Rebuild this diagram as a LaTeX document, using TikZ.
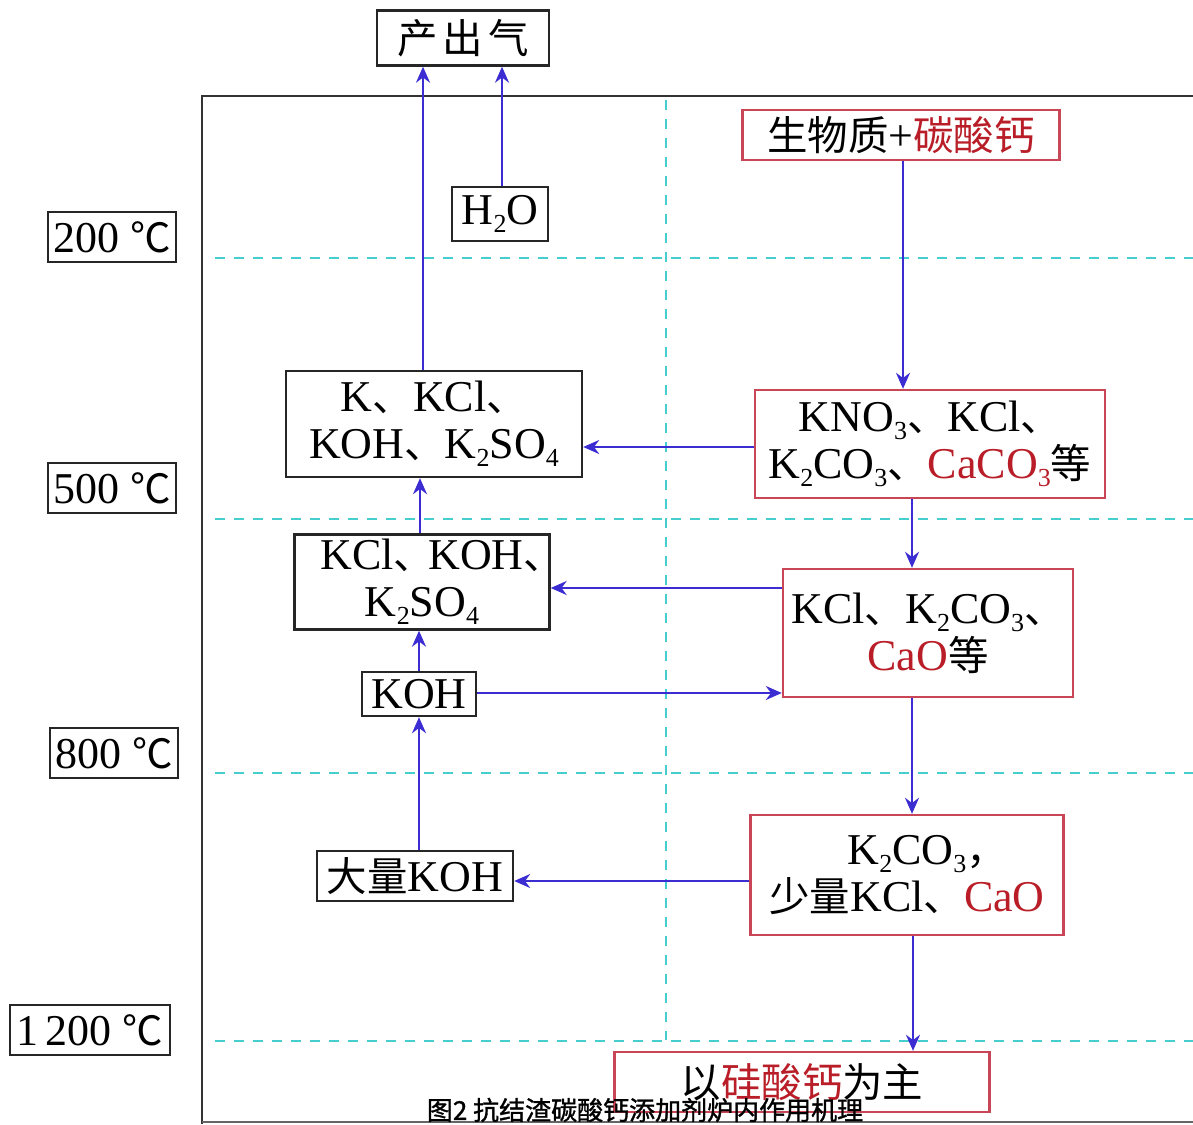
\documentclass[tikz,border=0pt]{standalone}
\usepackage{fontspec}
\usepackage{graphicx}
\setmainfont{Liberation Serif}
\newfontfamily\cjk[Scale=0.92]{Noto Sans CJK SC}
\newfontfamily\capfont[FakeBold=1.2]{Noto Sans CJK SC}
\usetikzlibrary{arrows.meta}
\definecolor{redc}{RGB}{185,30,40}
\definecolor{redb}{RGB}{200,70,85}
\definecolor{bluec}{RGB}{60,45,210}
\definecolor{cyanc}{RGB}{70,205,205}
\newcommand\dun{{\cjk 、}}
\newcommand\sbs[1]{\raisebox{-0.4ex}{\fontsize{26}{26}\selectfont #1}}
\newcommand\rd[1]{\textcolor{redc}{#1}}
\tikzset{
  bx/.style={draw=black!85, line width=2.4pt, inner sep=0pt, align=center,
    font=\fontsize{44}{47}\selectfont},
  rb/.style={bx, draw=redb},
  arr/.style={draw=bluec, line width=2.3pt, -{Stealth[length=16pt,width=14pt]}},
  grid/.style={draw=cyanc, line width=2.4pt, dash pattern=on 10pt off 9pt},
}
\begin{document}
\begin{tikzpicture}[x=1pt,y=-1pt]
\useasboundingbox (0,0) rectangle (1193,1124);
% grid lines
\foreach \yy in {258,519,773,1041} \draw[grid] (215,\yy) -- (1193,\yy);
\draw[grid] (666,100) -- (666,1040);
% frame
\draw[black!80, line width=2.8pt] (202,1124) -- (202,96) -- (1193,96);
\draw[black!60, line width=2pt] (202,1122) -- (1193,1122);
% temperature labels
\node[bx, minimum width=128, minimum height=50] (t200) at (112,237) {200 {\cjk ℃}};
\node[bx, minimum width=128, minimum height=50] (t500) at (112,488) {500 {\cjk ℃}};
\node[bx, minimum width=128, minimum height=50] (t800) at (114,753) {800 {\cjk ℃}};
\node[bx, minimum width=160, minimum height=50] (t1200) at (90,1030) {1\,200 {\cjk ℃}};
% boxes
\node[bx, minimum width=172, minimum height=55] (out) at (463,38) {\cjk 产\hspace{5pt}出\hspace{5pt}气};
\node[bx, minimum width=96, minimum height=54] (h2o) at (500,214) {H\sbs{2}O};
\node[rb, minimum width=317, minimum height=50] (bio) at (901,135) {{\cjk 生物质}+\rd{\cjk 碳酸钙}};
\node[bx, minimum width=296, minimum height=106] (kbox) at (434,424) {K\dun KCl\dun\\KOH\dun K\sbs{2}SO\sbs{4}};
\node[rb, minimum width=350, minimum height=108] (kno) at (930,444) {KNO\sbs{3}\dun KCl\dun\\K\sbs{2}CO\sbs{3}\dun\rd{CaCO\sbs{3}}{\cjk 等}};
\node[bx, minimum width=255, minimum height=95] (kcl) at (422,582) {KCl\dun\hspace{-6pt}KOH\rlap{\cjk 、}\\K\sbs{2}SO\sbs{4}};
\node[rb, minimum width=290, minimum height=128] (kco) at (928,633) {KCl\dun K\sbs{2}CO\sbs{3}\dun\\\rd{CaO}{\cjk 等}};
\node[bx, minimum width=114, minimum height=44] (koh) at (419,694) {KOH};
\node[bx, minimum width=196, minimum height=50] (dl) at (415,876) {{\cjk 大量}KOH};
\node[rb, minimum width=313, minimum height=120] (kc3) at (907,875) {K\sbs{2}CO\sbs{3}\rlap{\cjk ，}\\{\cjk 少量}KCl\dun\rd{CaO}};
\node[rb, minimum width=375, minimum height=60] (si) at (802,1082) {\cjk 以\rd{硅酸钙}为主};
% arrows
\draw[arr] (kbox.north -| 423,0) -- (out.south -| 423,0);
\draw[arr] (h2o.north -| 502,0) -- (out.south -| 502,0);
\draw[arr] (bio.south -| 903,0) -- (kno.north -| 903,0);
\draw[arr] (kno.west |- 0,447) -- (kbox.east |- 0,447);
\draw[arr] (kno.south -| 912,0) -- (kco.north -| 912,0);
\draw[arr] (kco.west |- 0,588) -- (kcl.east |- 0,588);
\draw[arr] (kcl.north -| 420,0) -- (kbox.south -| 420,0);
\draw[arr] (koh.north -| 419,0) -- (kcl.south -| 419,0);
\draw[arr] (koh.east |- 0,693) -- (kco.west |- 0,693);
\draw[arr] (dl.north -| 419,0) -- (koh.south -| 419,0);
\draw[arr] (kc3.west |- 0,881) -- (dl.east |- 0,881);
\draw[arr] (kco.south -| 912,0) -- (kc3.north -| 912,0);
\draw[arr] (kc3.south -| 913,0) -- (si.north -| 913,0);
% caption
\node (cap) at (645,1110) {\fontsize{26}{26}\selectfont\capfont 图2 抗结渣碳酸钙添加剂炉内作用机理};
\end{tikzpicture}
\end{document}
